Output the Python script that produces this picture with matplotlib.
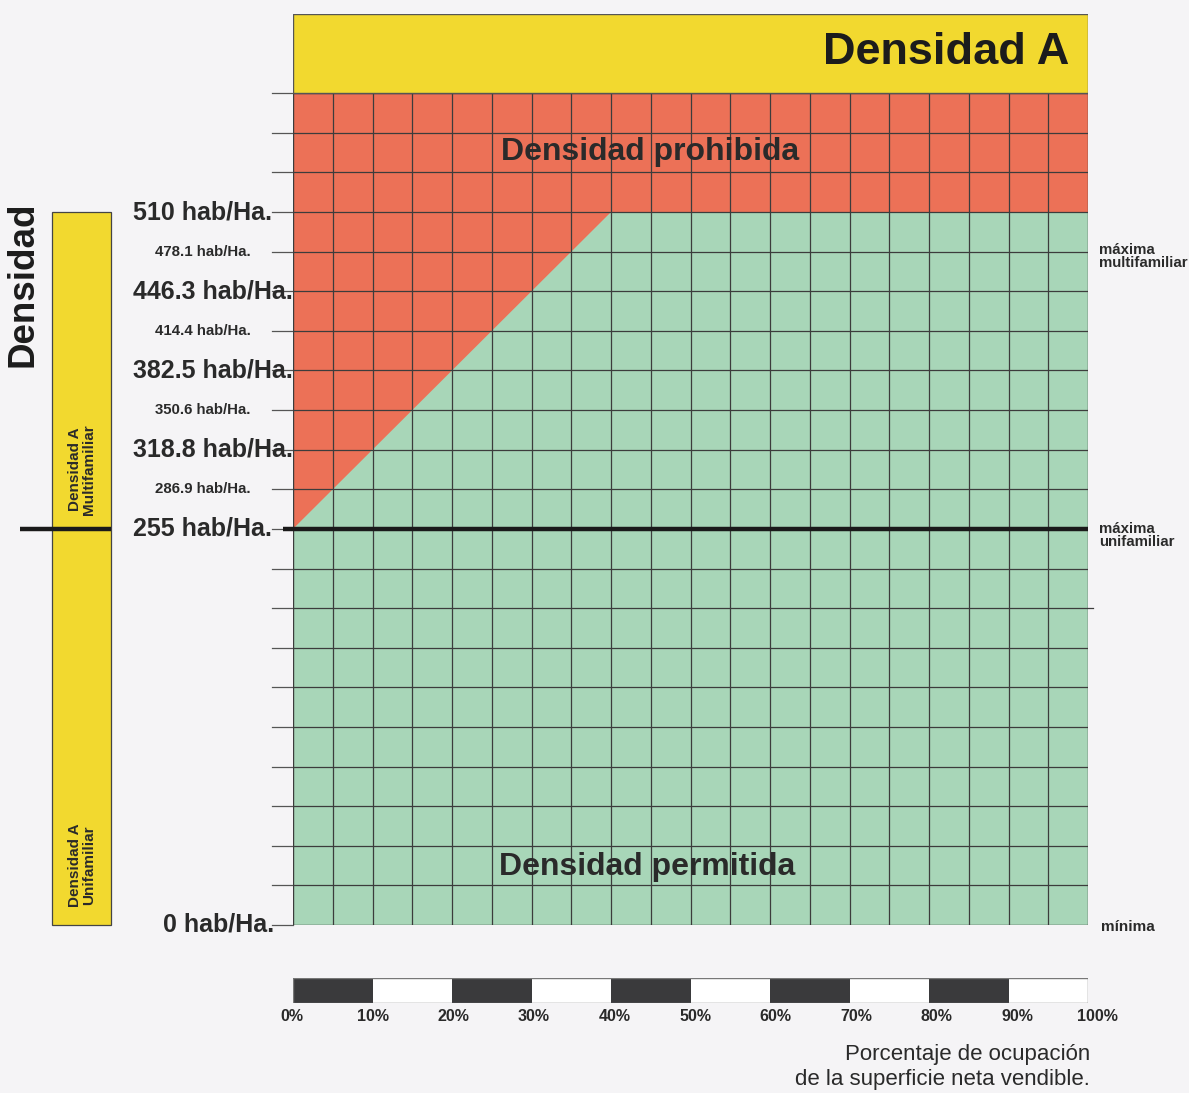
import matplotlib
matplotlib.use("Agg")
import matplotlib.pyplot as plt
from matplotlib.patches import Rectangle, Polygon

# density labels (hab/Ha.) on the left
major_density = [510, 446.3, 382.5, 318.8, 255, 0]
major_labels = ["510 hab/Ha.", "446.3 hab/Ha.", "382.5 hab/Ha.", "318.8 hab/Ha.",
                "255 hab/Ha.", "0 hab/Ha."]
minor_density = [478.1, 414.4, 350.6, 286.9]
minor_labels = ["478.1 hab/Ha.", "414.4 hab/Ha.", "350.6 hab/Ha.", "286.9 hab/Ha."]

# limit between permitted / prohibited density
limit_pct = [0, 40, 100]
limit_dens = [255, 510, 510]

# scale bar
pct_ticks = [0, 10, 20, 30, 40, 50, 60, 70, 80, 90, 100]
pct_labels = ["0%", "10%", "20%", "30%", "40%", "50%", "60%", "70%", "80%", "90%", "100%"]

uni_max = 255
multi_max = 510
n_rows = 21
col_step = 5

RED = "#ec7157"
GREEN = "#a8d6b8"
YELLOW = "#f2d92f"
BG = "#f5f4f6"
GRID = "#3c3c3c"
ARIAL = ["Liberation Sans", "DejaVu Sans"]


def to_row(d):
    # 10 rows for 0-255, 8 rows for 255-510
    if d <= uni_max:
        return d / (uni_max / 10)
    return 10 + (d - uni_max) / ((multi_max - uni_max) / 8)


def px(x):
    # horizontal pixel position -> percent units of the main axes
    return (x - 293) / 795 * 100


fig = plt.figure(figsize=(11.89, 10.93), dpi=100, facecolor=BG)
ax = fig.add_axes([293 / 1189, (1093 - 925) / 1093, 795 / 1189, (925 - 14) / 1093])
ax.set_xlim(0, 100)
ax.set_ylim(0, 23)
ax.axis("off")

# background regions
ax.add_patch(Rectangle((0, 0), 100, n_rows, facecolor=RED, edgecolor="none", zorder=1))
green_pts = [(0, 0)] + [(p, to_row(d)) for p, d in zip(limit_pct, limit_dens)] + [(100, 0)]
ax.add_patch(Polygon(green_pts, closed=True, facecolor=GREEN, edgecolor="none", zorder=2))

# grid
for r in range(1, n_rows):
    ax.plot([0, 100], [r, r], color=GRID, lw=0.9, zorder=3)
for c in range(col_step, 100, col_step):
    ax.plot([c, c], [0, n_rows], color=GRID, lw=0.9, zorder=3)
ax.add_patch(Rectangle((0, 0), 100, n_rows, facecolor="none", edgecolor=GRID, lw=1.0, zorder=4))
ax.plot([100, 100.6], [8, 8], color=GRID, lw=0.9, zorder=3, clip_on=False)

# left ticks
for r in range(0, n_rows + 1):
    ax.plot([px(272), 0], [r, r], color="#555555", lw=0.9, zorder=3, clip_on=False)

# header
ax.add_patch(Rectangle((0, n_rows), 100, 2, facecolor=YELLOW, edgecolor="#555555", lw=1.0, zorder=4))
ax.text(px(1069), n_rows + 1.02, "Densidad A", ha="right", va="center", fontsize=32.5,
        fontweight="bold", family=ARIAL, color="#1c1c1c", zorder=5)

ax.text(px(650), to_row(510) + 1.52, "Densidad prohibida", ha="center", va="center",
        fontsize=23, fontweight="bold", family=ARIAL, color="#2a2a2a", zorder=5)
ax.text(px(647), 1.46, "Densidad permitida", ha="center", va="center", fontsize=23,
        fontweight="bold", family=ARIAL, color="#2a2a2a", zorder=5)

# unifamiliar max line (broken behind the 255 label)
ax.plot([px(20), px(111)], [to_row(uni_max)] * 2, color="#1a1a1a", lw=3.2, zorder=6,
        clip_on=False, solid_capstyle="butt")
ax.plot([px(283), 100], [to_row(uni_max)] * 2, color="#1a1a1a", lw=3.2, zorder=6,
        clip_on=False, solid_capstyle="butt")

# left yellow bar
ax.add_patch(Rectangle((px(52), 0), px(111) - px(52), to_row(multi_max), facecolor=YELLOW,
                       edgecolor="#444444", lw=0.9, zorder=5, clip_on=False))
ax.text(px(82), 11.5, "Densidad A\nMultifamiliar", rotation=90, ha="center", va="center",
        fontsize=11, fontweight="bold", family=ARIAL, color="#2a2a2a", linespacing=0.95,
        zorder=7, clip_on=False)
ax.text(px(82), 1.5, "Densidad A\nUnifamiliar", rotation=90, ha="center", va="center",
        fontsize=11, fontweight="bold", family=ARIAL, color="#2a2a2a", linespacing=0.95,
        zorder=7, clip_on=False)
ax.text(px(23), 16.18, "Densidad", rotation=90, ha="center", va="center", fontsize=26.5,
        fontweight="bold", family=ARIAL, color="#1c1c1c", clip_on=False)

# density labels
for d, lab in zip(major_density, major_labels):
    if d == 0:
        ax.text(px(274), to_row(d), lab, ha="right", va="center", fontsize=18,
                fontweight="bold", family=ARIAL, color="#2a2a2a", clip_on=False, zorder=7)
    else:
        ax.text(px(133), to_row(d), lab, ha="left", va="center", fontsize=18,
                fontweight="bold", family=ARIAL, color="#2a2a2a", clip_on=False, zorder=7)
for d, lab in zip(minor_density, minor_labels):
    ax.text(px(155), to_row(d), lab, ha="left", va="center", fontsize=10.8,
            fontweight="bold", family=ARIAL, color="#2a2a2a", clip_on=False, zorder=7)

# right labels
ax.text(px(1099), to_row(478.1) - 0.12, "máxima\nmultifamiliar", ha="left", va="center",
        fontsize=10.8, fontweight="bold", family=ARIAL, color="#2a2a2a", linespacing=0.9,
        clip_on=False)
ax.text(px(1099), to_row(uni_max) - 0.17, "máxima\nunifamiliar", ha="left", va="center",
        fontsize=10.8, fontweight="bold", family=ARIAL, color="#2a2a2a", linespacing=0.9,
        clip_on=False)
ax.text(px(1101), -0.06, "mínima", ha="left", va="center", fontsize=11,
        fontweight="bold", family=ARIAL, color="#2a2a2a", clip_on=False)

# scale bar
sb = fig.add_axes([293 / 1189, (1093 - 1003) / 1093, 795 / 1189, 25 / 1093])
sb.set_xlim(0, 100)
sb.set_ylim(0, 1)
sb.axis("off")
for i, left in enumerate(pct_ticks[:-1]):
    sb.bar(left, 1, width=10, align="edge", color="#3a3a3c" if i % 2 == 0 else "white",
           edgecolor="none")
sb.add_patch(Rectangle((0, 0), 100, 1, facecolor="none", edgecolor="#777777", lw=1.0))
for p, lab in zip(pct_ticks, pct_labels):
    sb.text(p * 1.0135 - 0.1, -0.55, lab, ha="center", va="center", fontsize=11.5,
            fontweight="bold", family=ARIAL, color="#2a2a2a", clip_on=False)

fig.text(1090 / 1189, 1 - 1067 / 1093, "Porcentaje de ocupación\nde la superficie neta vendible.",
         ha="right", va="center", fontsize=16, family=ARIAL, color="#2a2a2a", linespacing=1.2)

fig.savefig("out.png", dpi=100, facecolor=BG)
